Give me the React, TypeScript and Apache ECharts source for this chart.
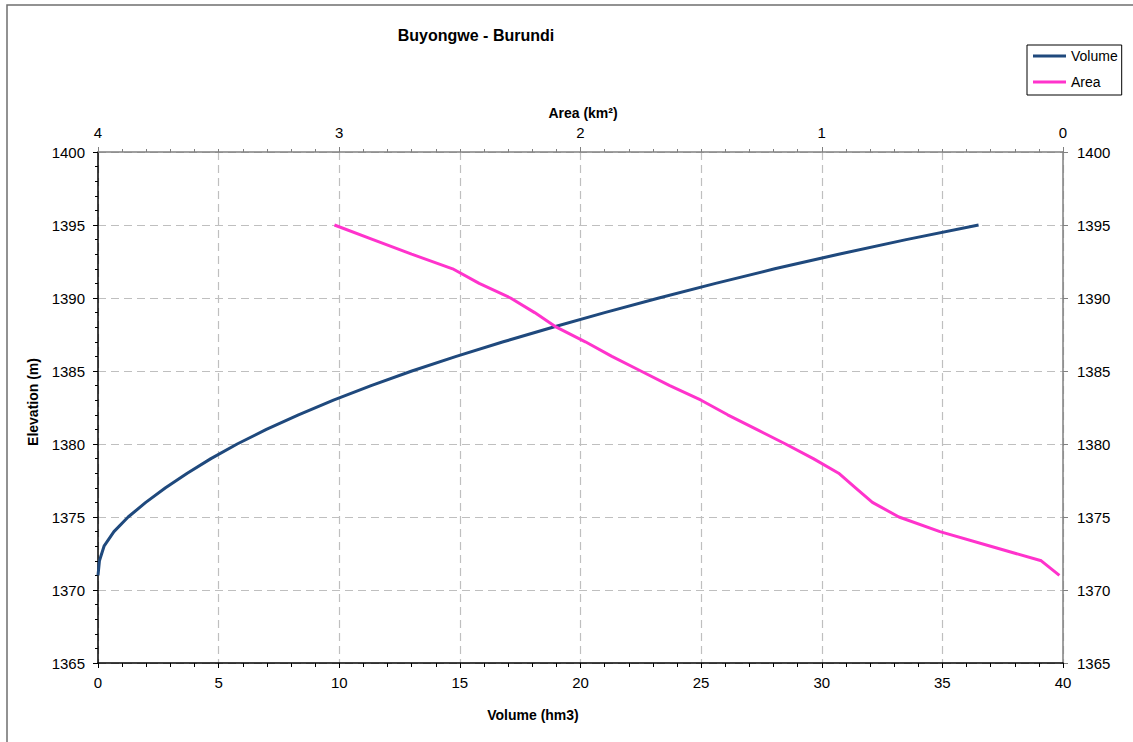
import { useEffect, useRef } from "react";
import * as echarts from "echarts";

const elevations = [1371, 1372, 1373, 1374, 1375, 1376, 1377, 1378, 1379, 1380, 1381, 1382, 1383, 1384, 1385, 1386, 1387, 1388, 1389, 1390, 1391, 1392, 1393, 1394, 1395];
const volumes = [0, 0.06, 0.25, 0.66, 1.25, 1.98, 2.8, 3.7, 4.68, 5.77, 6.98, 8.31, 9.76, 11.32, 13.01, 14.85, 16.8, 18.85, 21.0, 23.25, 25.6, 28.05, 30.7, 33.5, 36.5];
const areas = [0.015, 0.09, 0.3, 0.51, 0.68, 0.79, 0.86, 0.93, 1.035, 1.15, 1.27, 1.39, 1.5, 1.63, 1.75, 1.87, 1.98, 2.1, 2.19, 2.29, 2.42, 2.53, 2.7, 2.86, 3.02];

const titleText = "Buyongwe - Burundi";
const seriesNames = ["Volume", "Area"];
const seriesColors = ["#1F497D", "#FF33CC"];

const FONT = "'Liberation Sans', Arial, sans-serif";

export default function App() {
  const ref = useRef<HTMLDivElement>(null);

  useEffect(() => {
    document.body.style.margin = "0";
    const chart = echarts.init(ref.current!, null, { renderer: "svg" });
    const labelStyle = { color: "#000", fontSize: 15, fontFamily: FONT, formatter: (v: number) => String(v) };
    const gridLine = { show: true, lineStyle: { color: "#bfbfbf", type: [8, 5] as any, width: 1.2 } };
    chart.setOption({
      animation: false,
      backgroundColor: "#fff",
      textStyle: { fontFamily: FONT },
      grid: { left: 98, right: 70, top: 152, bottom: 79, containLabel: false },
      legend: {
        data: seriesNames,
        orient: "vertical",
        left: 1027,
        top: 45,
        padding: [4, 4, 6, 6],
        itemGap: 12,
        itemWidth: 33,
        itemHeight: 3,
        icon: "rect",
        borderColor: "#000",
        borderWidth: 1,
        textStyle: { fontSize: 14, lineHeight: 14, color: "#000", fontFamily: FONT },
      },
      xAxis: [
        {
          type: "value",
          position: "bottom",
          min: 0,
          max: 40,
          interval: 5,
          axisLine: { show: true, onZero: false, lineStyle: { color: "#000", width: 1.5 } },
          axisTick: { show: true, inside: false, length: 5, lineStyle: { color: "#000" } },
          minorTick: { show: true, splitNumber: 5, length: 4, lineStyle: { color: "#000" } },
          splitLine: gridLine,
          axisLabel: { ...labelStyle, margin: 12 },
        },
        {
          type: "value",
          position: "top",
          min: 0,
          max: 4,
          interval: 1,
          inverse: true,
          axisLine: { show: true, onZero: false, lineStyle: { color: "#808080", width: 1.5 } },
          axisTick: { show: true, inside: false, length: 5, lineStyle: { color: "#808080" } },
          minorTick: { show: true, splitNumber: 10, length: 3, lineStyle: { color: "#808080" } },
          splitLine: { show: false },
          axisLabel: { ...labelStyle, margin: 12 },
        },
      ],
      yAxis: [
        {
          type: "value",
          position: "left",
          min: 1365,
          max: 1400,
          interval: 5,
          axisLine: { show: true, onZero: false, lineStyle: { color: "#000", width: 1.5 } },
          axisTick: { show: true, inside: false, length: 5, lineStyle: { color: "#000" } },
          minorTick: { show: true, splitNumber: 5, length: 3, lineStyle: { color: "#000" } },
          splitLine: gridLine,
          axisLabel: { ...labelStyle, margin: 13 },
        },
        {
          type: "value",
          position: "right",
          min: 1365,
          max: 1400,
          interval: 5,
          axisLine: { show: true, onZero: false, lineStyle: { color: "#808080", width: 1.5 } },
          axisTick: { show: true, inside: false, length: 5, lineStyle: { color: "#808080" } },
          splitLine: { show: false },
          axisLabel: { ...labelStyle, margin: 14 },
        },
      ],
      series: [
        {
          name: seriesNames[0],
          type: "line",
          xAxisIndex: 0,
          yAxisIndex: 0,
          symbol: "none",
          smooth: false,
          lineStyle: { color: seriesColors[0], width: 3 },
          itemStyle: { color: seriesColors[0] },
          data: elevations.map((e, i) => [volumes[i], e]),
        },
        {
          name: seriesNames[1],
          type: "line",
          xAxisIndex: 1,
          yAxisIndex: 0,
          symbol: "none",
          smooth: false,
          lineStyle: { color: seriesColors[1], width: 3 },
          itemStyle: { color: seriesColors[1] },
          data: elevations.map((e, i) => [areas[i], e]),
        },
      ],
      graphic: [
        {
          type: "rect",
          z: -10,
          silent: true,
          shape: { x: 7, y: 5, width: 1200, height: 800 },
          style: { fill: "none", stroke: "#6f6f6f", lineWidth: 1.5 },
        },
        {
          type: "text",
          x: 476,
          y: 35,
          style: { text: titleText, font: `bold 16px ${FONT}`, fill: "#000", textAlign: "center", textVerticalAlign: "middle" },
        },
        {
          type: "text",
          x: 583,
          y: 113,
          style: { text: "Area (km²)", font: `bold 14px ${FONT}`, fill: "#000", textAlign: "center", textVerticalAlign: "middle" },
        },
        {
          type: "text",
          x: 533,
          y: 715,
          style: { text: "Volume (hm3)", font: `bold 14px ${FONT}`, fill: "#000", textAlign: "center", textVerticalAlign: "middle" },
        },
        {
          type: "text",
          x: 33,
          y: 402,
          rotation: Math.PI / 2,
          style: { text: "Elevation (m)", font: `bold 14px ${FONT}`, fill: "#000", textAlign: "center", textVerticalAlign: "middle" },
        },
      ],
    });
    return () => chart.dispose();
  }, []);

  return <div ref={ref} style={{ width: 1133, height: 742 }} />;
}
